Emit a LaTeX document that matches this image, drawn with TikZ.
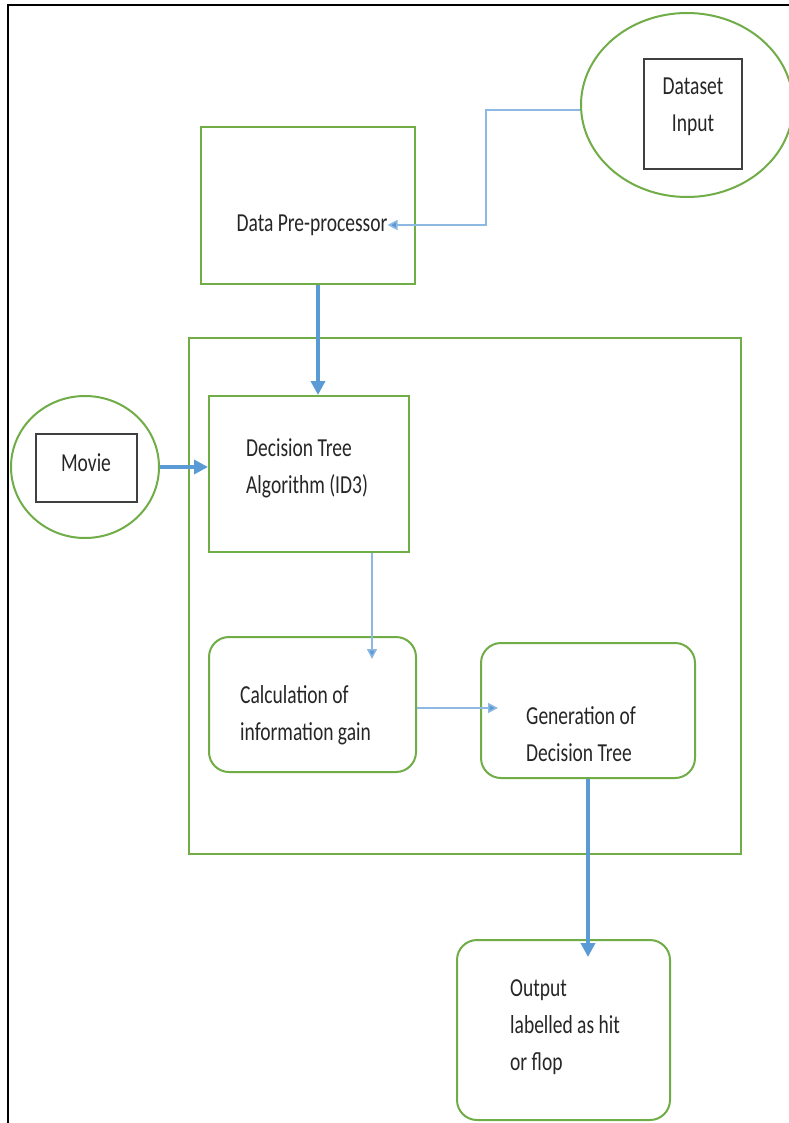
\documentclass[tikz,border=0pt]{standalone}
\usepackage{fontspec}
\setmainfont{Carlito}
\usetikzlibrary{shapes.geometric,arrows.meta}
\definecolor{grn}{HTML}{70AD47}
\definecolor{blu}{HTML}{5B9BD5}
\definecolor{lblu}{HTML}{8DB8E2}
\definecolor{txt}{HTML}{262626}
\newcommand{\tl}[1]{\scalebox{1}[1.33]{#1}}
\begin{document}
\begin{tikzpicture}[x=1pt,y=-1pt,
  gbox/.style={draw=grn,line width=2pt,rectangle,inner sep=0pt},
  rbox/.style={gbox,rounded corners=20pt},
  gell/.style={draw=grn,line width=2pt,ellipse,inner sep=0pt},
  kbox/.style={draw=black!75,line width=1.6pt,rectangle,inner sep=0pt},
  lbl/.style={text=txt,font=\fontsize{19.5}{37}\selectfont,inner sep=0pt},
  lbll/.style={lbl,anchor=west,align=left},
  lblc/.style={lbl,align=center},
  thick arrow/.style={draw=blu,line width=4pt,-{Triangle[length=14pt,width=14pt]}},
  thin arrow/.style={draw=lblu,line width=1.5pt,-{Triangle[length=10pt,width=10pt,fill=blu]}}
]
\useasboundingbox (0,0) rectangle (788,1123);
\fill[white] (0,0) rectangle (788,1123);
% page frame
\draw[black,line width=2pt] (8,1123) -- (8,5) -- (790,5);

% outer container
\node[gbox,minimum width=552pt,minimum height=516pt] (outer) at (465,596) {};

% data preprocessor
\node[gbox,minimum width=214pt,minimum height=157pt] (dpp) at (308,205.5) {};
\node[lblc] (dpptext) at (312,225) {\tl{Data Pre-processor}};

% dataset input
\node[gell,minimum width=212pt,minimum height=184pt] (dsell) at (687,105) {};
\node[kbox,minimum width=98pt,minimum height=110pt] (dsbox) at (693,114) {};
\node[lblc] (dstext) at (693,107) {\tl{Dataset}\\\tl{Input}};

% movie
\node[gell,minimum width=148pt,minimum height=142pt] (movell) at (85,467) {};
\node[kbox,minimum width=101pt,minimum height=68pt] (movbox) at (86.5,468) {};
\node[lblc] (movtext) at (86,463) {\tl{Movie}};

% decision tree algorithm
\node[gbox,minimum width=200pt,minimum height=156pt] (dta) at (309,474) {};
\node[lbll] (dtatext) at (246,468) {\tl{Decision Tree}\\\tl{Algorithm (ID3)}};

% calculation
\node[rbox,minimum width=207pt,minimum height=135pt] (calc) at (312.5,704.5) {};
\node[lbll] (calctext) at (240,715) {\tl{Calculation of}\\\tl{information gain}};

% generation
\node[rbox,minimum width=214pt,minimum height=135pt] (gen) at (588,710.5) {};
\node[lbll] (gentext) at (526,734) {\tl{Generation of}\\\tl{Decision Tree}};

% output
\node[rbox,minimum width=213pt,minimum height=180pt] (out) at (563.5,1030) {};
\node[lbll] (outtext) at (510,1027) {\tl{Output}\\\tl{labelled as hit}\\\tl{or flop}};

% connectors
\coordinate (dsbend) at (486,110);
\draw[thin arrow] (dsbend -| dsell.west) -- (dsbend) |- (dpptext.east);
\draw[thick arrow] ([xshift=10pt]dpp.south) -- ([xshift=9pt]dta.north);
\draw[thick arrow] (movell.east) -- (dta.west |- movell.east);
\coordinate (calcin) at (372,659);
\draw[thin arrow] (dta.south -| calcin) -- (calcin);
\coordinate (genin) at (498,708);
\draw[thin arrow] (calc.east |- genin) -- (genin);
\coordinate (outin) at (588,957);
\draw[thick arrow] (gen.south) -- (outin);
\end{tikzpicture}
\end{document}
